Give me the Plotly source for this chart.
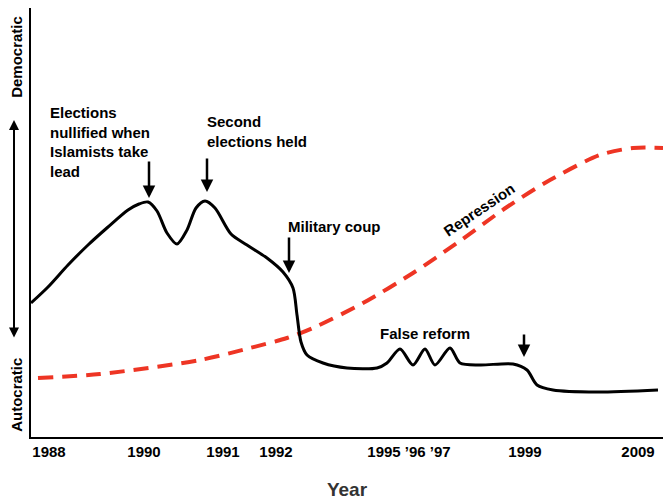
import plotly.graph_objects as go

# schematic timeline position (x) and level (y, autocratic -> democratic)
regime_x = [0, 17, 37, 57, 77, 97, 108, 117, 126, 136, 146, 156, 165, 174, 184, 200, 216, 236,
            252, 262, 266, 270, 276, 292, 316, 346, 356, 369, 382, 394, 404, 419, 429,
            449, 482, 496, 506, 522, 566, 627]
regime_y = [134, 150, 172, 192, 210, 227, 233, 235, 226, 204, 193, 207, 229, 236, 229, 203, 192, 179,
            165, 149, 122, 95, 82, 74, 69, 69, 74, 88, 72, 88, 72, 89, 74,
            72, 73, 67, 52, 47, 45, 47]

repression_x = [7, 69, 169, 219, 256, 282, 332, 382, 426, 476, 519, 569, 602, 632]
repression_y = [59, 63, 77, 89, 99, 109, 134, 164, 194, 230, 257, 282, 289, 289]

tick_pos = [18, 113, 192, 245, 378, 494, 607]
tick_labels = ["1988", "1990", "1991", "1992", "1995 \u201996 \u201997", "1999", "2009"]

FONT = "Liberation Sans, Arial, sans-serif"


def plotSchematic():
    layout = go.Layout(width=663, height=502,
                       margin=dict(l=31, r=0, t=8, b=65),
                       plot_bgcolor="white", paper_bgcolor="white",
                       showlegend=False,
                       font=dict(family=FONT, size=15, color="black"))
    fig = go.Figure(layout=layout)

    fig.add_trace(go.Scatter(x=repression_x, y=repression_y, mode="lines",
                             line=dict(color="#ee3524", width=4, dash="15px,9px",
                                       shape="spline", smoothing=0.8),
                             hoverinfo="skip"))
    fig.add_trace(go.Scatter(x=regime_x, y=regime_y, mode="lines",
                             line=dict(color="black", width=3,
                                       shape="spline", smoothing=0.8),
                             hoverinfo="skip"))

    fig.update_xaxes(range=[0, 632], showgrid=False, zeroline=False,
                     showline=True, linecolor="black", linewidth=2,
                     tickvals=tick_pos, ticktext=tick_labels, ticks="",
                     tickfont=dict(family=FONT, size=15, weight="bold"),
                     title=dict(text="Year", standoff=24,
                                font=dict(family=FONT, size=19, weight="bold", color="#333333")))
    fig.update_yaxes(range=[0, 429], showgrid=False, zeroline=False,
                     showline=True, linecolor="black", linewidth=2,
                     showticklabels=False, ticks="")

    bold = dict(family=FONT, size=15, weight="bold", color="black")
    notes = [
        (17, 335, "Elections<br>nullified when<br>Islamists take<br>lead"),
        (174, 326, "Second<br>elections held"),
        (255, 221, "Military coup"),
        (347, 114, "False reform"),
    ]
    for x, y, txt in notes:
        fig.add_annotation(x=x, y=y, text=txt, showarrow=False, xanchor="left",
                           yanchor="top", align="left", font=bold)

    arrows = [(118, 239, -38), (176, 245, -35), (258, 164, -37), (493, 80, -24)]
    for x, y, ay in arrows:
        fig.add_annotation(x=x, y=y, ax=0, ay=ay, text="", showarrow=True,
                           arrowhead=2, arrowsize=1, arrowwidth=2.5, arrowcolor="black")

    fig.add_annotation(x=448, y=228, text="Repression", showarrow=False,
                       textangle=-34, font=bold)

    # vertical scale labels outside the plot
    fig.add_annotation(xref="paper", yref="paper", x=-0.024, y=(437 - 57) / 429,
                       xanchor="center", yanchor="middle",
                       text="Democratic", textangle=-90, showarrow=False, font=bold)
    fig.add_annotation(xref="paper", yref="paper", x=-0.024, y=(437 - 395) / 429,
                       xanchor="center", yanchor="middle",
                       text="Autocratic", textangle=-90, showarrow=False, font=bold)
    fig.add_annotation(xref="paper", yref="paper", x=-0.0269, y=(437 - 120) / 429,
                       ax=0, ay=219, text="", showarrow=True, arrowside="end+start",
                       arrowhead=2, arrowsize=1, arrowwidth=2, arrowcolor="black")
    return fig


fig = plotSchematic()
fig.write_html("out.html", config={"displayModeBar": False},
               post_script="document.body.style.margin='0';")
